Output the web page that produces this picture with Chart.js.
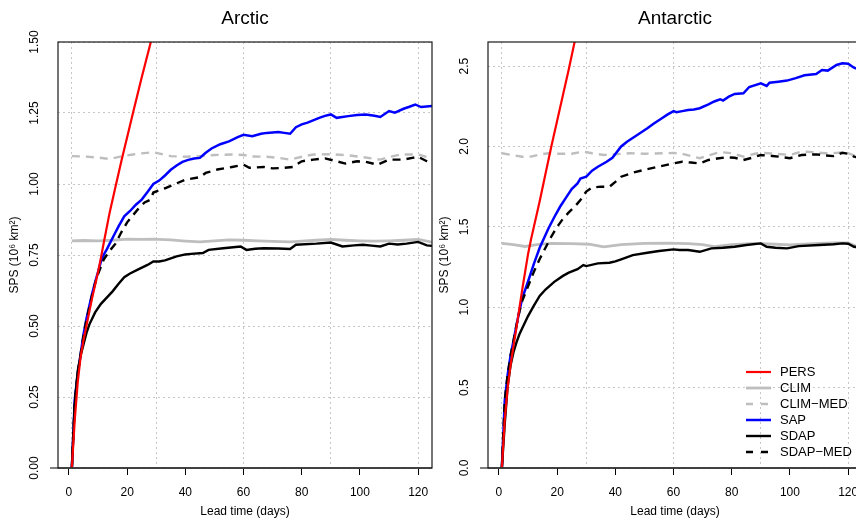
<!DOCTYPE html>
<html>
<head>
<meta charset="utf-8">
<script src="https://cdn.jsdelivr.net/npm/chart.js@4.4.0/dist/chart.umd.min.js"></script>
<style>
  html, body { margin: 0; padding: 0; background: #fff; overflow: hidden; }
  #wrap { position: relative; width: 856px; height: 520px; overflow: hidden; }
  canvas { position: absolute; top: 0; }
  #arctic { left: 0; }
  #antarctic { left: 430px; }
</style>
</head>
<body>
<div id="wrap">
  <canvas id="arctic" width="448" height="520"></canvas>
  <canvas id="antarctic" width="448" height="520"></canvas>
</div>
<script>
// lead time axis (days)
const leadTicks = [0, 20, 40, 60, 80, 100, 120];
const gridDays = [1, 30, 60, 90, 120];
const xMin = -3.76, xMax = 124.76;

const seriesNames = ['PERS', 'CLIM', 'CLIM\u2212MED', 'SAP', 'SDAP', 'SDAP\u2212MED'];

// Arctic panel, SPS in 10^6 km^2, [day, value]
const arcticYTicks = [0, 0.25, 0.5, 0.75, 1.0, 1.25, 1.5];
const arcticYLabels = ['0.00', '0.25', '0.50', '0.75', '1.00', '1.25', '1.50'];
const arcticYMax = 1.5;

const arcticPERS = [[1,0],[2,0.17],[3,0.3],[4,0.39],[5,0.45],[6,0.5],[7,0.55],[8,0.6],[9,0.645],[10,0.69],
  [11,0.74],[12,0.795],[14,0.9],[16,0.99],[18,1.08],[20,1.165],[22,1.25],[25,1.375],[28,1.495],[30,1.575],[35,1.78]];
const arcticCLIM = [[1,0.8],[5,0.801],[10,0.8],[15,0.802],[20,0.806],[25,0.805],[29,0.806],[35,0.803],[40,0.799],
  [45,0.796],[50,0.8],[55,0.803],[60,0.802],[65,0.8],[70,0.798],[76,0.796],[80,0.799],[85,0.802],[90,0.805],
  [95,0.802],[100,0.8],[105,0.799],[110,0.8],[115,0.802],[120,0.805],[125,0.795]];
const arcticCLIMMED = [[1,1.098],[5,1.097],[10,1.093],[14,1.088],[18,1.097],[22,1.104],[25,1.108],[29,1.112],
  [32,1.105],[35,1.098],[40,1.096],[45,1.098],[50,1.102],[56,1.104],[60,1.102],[63,1.097],[68,1.096],[72,1.092],
  [76,1.086],[80,1.096],[84,1.104],[90,1.105],[95,1.102],[100,1.096],[104,1.09],[107,1.086],[110,1.095],
  [114,1.104],[120,1.104],[123,1.095],[125,1.086]];
const arcticSAP = [[1,0],[2,0.24],[3,0.33],[4,0.4],[5,0.47],[6,0.525],[7,0.57],[8,0.615],[9,0.655],[10,0.69],
  [11,0.728],[12,0.752],[13,0.77],[14,0.79],[16,0.83],[17,0.85],[19,0.886],[21,0.905],[23,0.927],[25,0.945],
  [27,0.972],[29,1.0],[31,1.012],[33,1.03],[35,1.05],[37,1.065],[39,1.078],[41,1.085],[43,1.09],[45,1.092],
  [47,1.11],[49,1.125],[52,1.14],[55,1.15],[58,1.165],[60,1.173],[63,1.168],[66,1.177],[68,1.18],[72,1.183],
  [74,1.18],[76,1.177],[78,1.2],[80,1.21],[82,1.216],[86,1.233],[88,1.24],[90,1.245],[92,1.233],[96,1.239],
  [99,1.243],[102,1.245],[105,1.24],[107,1.236],[110,1.257],[112,1.251],[115,1.265],[117,1.272],[119,1.28],
  [121,1.271],[125,1.275]];
const arcticSDAP = [[1,0],[2,0.227],[3,0.34],[4,0.395],[5,0.435],[6,0.475],[7,0.505],[9,0.548],[11,0.578],
  [13,0.6],[15,0.622],[17,0.648],[19,0.672],[21,0.685],[24,0.7],[27,0.715],[29,0.727],[31,0.727],[33,0.731],
  [35,0.738],[37,0.745],[40,0.752],[42,0.754],[46,0.757],[48,0.768],[53,0.774],[59,0.78],[61,0.768],[64,0.772],
  [67,0.774],[72,0.773],[76,0.771],[78,0.786],[85,0.79],[90,0.794],[94,0.78],[98,0.784],[101,0.786],[104,0.783],
  [107,0.78],[110,0.79],[113,0.787],[116,0.79],[120,0.796],[123,0.784],[125,0.782]];
const arcticSDAPMED = [[1,0],[2,0.23],[3,0.33],[4,0.4],[5,0.465],[6,0.52],[7,0.565],[8,0.61],[9,0.65],[10,0.683],
  [12,0.735],[14,0.765],[16,0.79],[18,0.83],[20,0.865],[22,0.89],[24,0.915],[26,0.935],[28,0.945],[29,0.97],
  [31,0.978],[33,0.985],[36,0.998],[40,1.015],[45,1.024],[47,1.039],[51,1.051],[56,1.06],[60,1.068],[62,1.057],
  [67,1.06],[70,1.055],[74,1.057],[77,1.06],[80,1.08],[84,1.086],[88,1.09],[92,1.08],[95,1.072],[99,1.08],
  [102,1.078],[106,1.068],[110,1.086],[115,1.086],[118,1.092],[120,1.096],[123,1.08],[125,1.07]];

// Antarctic panel
const antarcticYTicks = [0, 0.5, 1.0, 1.5, 2.0, 2.5];
const antarcticYLabels = ['0.0', '0.5', '1.0', '1.5', '2.0', '2.5'];
const antarcticYMax = 2.65;

const antarcticPERS = [[1,0],[2,0.3],[3,0.5],[4,0.64],[5,0.76],[6,0.87],[7,0.99],[8,1.11],[9,1.22],[10,1.33],
  [11,1.42],[12,1.5],[14,1.66],[16,1.83],[18,2.0],[20,2.16],[22,2.32],[24,2.48],[26,2.65],[28,2.81],[30,2.97]];
const antarcticCLIM = [[1,1.397],[5,1.39],[9,1.378],[13,1.39],[18,1.397],[25,1.396],[31,1.392],[36,1.376],
  [42,1.39],[50,1.397],[58,1.399],[65,1.396],[70,1.39],[74,1.377],[80,1.39],[88,1.397],[95,1.392],[100,1.388],
  [108,1.395],[115,1.4],[120,1.4],[123,1.378],[125,1.376]];
const antarcticCLIMMED = [[1,1.958],[5,1.945],[8,1.936],[11,1.937],[14,1.95],[17,1.958],[20,1.955],[25,1.955],
  [29,1.968],[32,1.958],[36,1.947],[40,1.952],[45,1.958],[50,1.955],[57,1.958],[60,1.96],[63,1.955],[66,1.94],
  [69,1.927],[72,1.945],[76,1.965],[80,1.958],[84,1.937],[88,1.955],[90,1.961],[95,1.955],[100,1.947],
  [104,1.968],[108,1.965],[112,1.958],[116,1.96],[119,1.965],[122,1.945],[125,1.935]];
const antarcticSAP = [[1,0],[2,0.42],[3,0.58],[4,0.7],[5,0.79],[6,0.885],[7,0.975],[8,1.055],[10,1.16],[12,1.27],
  [14,1.37],[17,1.49],[19,1.56],[21,1.625],[23,1.68],[25,1.735],[27,1.77],[28,1.8],[30,1.812],[32,1.85],
  [34,1.874],[37,1.905],[39,1.93],[42,2.0],[44,2.03],[47,2.065],[51,2.113],[53,2.14],[56,2.176],[58,2.2],
  [60,2.22],[61,2.213],[63,2.22],[65,2.227],[67,2.23],[69,2.238],[72,2.262],[74,2.28],[76,2.294],[77,2.286],
  [79,2.31],[81,2.327],[84,2.331],[86,2.37],[90,2.393],[92,2.377],[93,2.397],[96,2.403],[99,2.41],[102,2.425],
  [105,2.443],[109,2.451],[111,2.476],[113,2.472],[116,2.507],[118,2.518],[120,2.515],[122,2.49],[125,2.47]];
const antarcticSDAP = [[1,0],[2,0.276],[3,0.51],[4,0.64],[5,0.72],[6,0.78],[7,0.83],[8,0.87],[10,0.945],
  [12,1.01],[14,1.07],[16,1.11],[19,1.158],[22,1.195],[24,1.215],[27,1.237],[29,1.262],[30,1.256],[34,1.273],
  [38,1.277],[40,1.285],[42,1.298],[46,1.324],[51,1.339],[55,1.35],[60,1.36],[62,1.356],[65,1.356],[69,1.345],
  [73,1.366],[77,1.37],[81,1.376],[85,1.387],[90,1.397],[92,1.376],[95,1.37],[99,1.366],[103,1.38],[110,1.387],
  [115,1.392],[118,1.397],[120,1.395],[122,1.376],[125,1.37]];
const antarcticSDAPMED = [[1,0],[2,0.42],[3,0.58],[4,0.7],[5,0.79],[6,0.885],[7,0.97],[8,1.04],[10,1.13],
  [12,1.22],[14,1.3],[16,1.37],[18,1.44],[20,1.5],[22,1.55],[24,1.59],[26,1.625],[28,1.667],[30,1.72],
  [32,1.745],[35,1.75],[38,1.75],[40,1.78],[42,1.812],[46,1.837],[50,1.855],[55,1.875],[60,1.895],[63,1.905],
  [66,1.9],[69,1.895],[72,1.916],[75,1.925],[78,1.933],[81,1.93],[84,1.916],[87,1.93],[90,1.947],[94,1.941],
  [97,1.935],[100,1.927],[104,1.947],[109,1.951],[112,1.945],[115,1.94],[118,1.961],[120,1.955],[122,1.937],
  [125,1.925]];

Chart.defaults.font.family = '"Liberation Sans", Arial, Helvetica, sans-serif';
Chart.defaults.font.size = 12;
Chart.defaults.color = '#000';

const toPoints = pairs => pairs.map(p => ({ x: p[0], y: p[1] }));

// line styles, in legend order
const styles = [
  { color: '#ff0000', width: 2.2, dash: [],     order: 0 },
  { color: '#bebebe', width: 2.8, dash: [],     order: 5 },
  { color: '#bebebe', width: 2.4, dash: [8, 6], order: 4 },
  { color: '#0000ff', width: 2.5, dash: [],     order: 3 },
  { color: '#000000', width: 2.4, dash: [],     order: 2 },
  { color: '#000000', width: 2.4, dash: [8, 6], order: 1 }
];

function buildDatasets(series) {
  return series.map((s, i) => ({
    label: seriesNames[i],
    data: toPoints(s),
    borderColor: styles[i].color,
    borderWidth: styles[i].width,
    borderDash: styles[i].dash,
    order: styles[i].order,
    pointRadius: 0,
    tension: 0,
    fill: false,
    clip: 0,
    xAxisID: 'x',
    yAxisID: 'y'
  }));
}

// panel title centred over the plot region
const panelTitle = {
  id: 'panelTitle',
  afterDraw(chart, args, opts) {
    const { ctx, chartArea } = chart;
    ctx.save();
    ctx.font = '19px "Liberation Sans", Arial, sans-serif';
    ctx.fillStyle = '#000';
    ctx.textAlign = 'center';
    ctx.textBaseline = 'alphabetic';
    ctx.fillText(opts.text, (chartArea.left + chartArea.right) / 2, 24);
    ctx.restore();
  }
};

// frame around the plot region plus the zero line
const plotBox = {
  id: 'plotBox',
  afterDatasetsDraw(chart) {
    const { ctx, chartArea: a } = chart;
    ctx.save();
    ctx.strokeStyle = '#555';
    ctx.lineWidth = 1.5;
    ctx.beginPath();
    ctx.moveTo(a.left - 8, a.bottom);
    ctx.lineTo(a.right, a.bottom);
    ctx.stroke();
    ctx.strokeStyle = '#1a1a1a';
    ctx.lineWidth = 1.2;
    ctx.strokeRect(a.left, a.top, a.right - a.left, a.bottom - a.top);
    ctx.restore();
  }
};

// line legend, lower right of the Antarctic panel
const lineLegend = {
  id: 'lineLegend',
  afterDraw(chart, args, opts) {
    if (!opts.show) return;
    const { ctx } = chart;
    ctx.save();
    ctx.font = '13px "Liberation Sans", Arial, sans-serif';
    ctx.textBaseline = 'middle';
    ctx.textAlign = 'left';
    chart.data.datasets.forEach((ds, i) => {
      const y = opts.y + i * 16;
      ctx.strokeStyle = ds.borderColor;
      ctx.lineWidth = ds.borderWidth;
      ctx.setLineDash(ds.borderDash.length ? [7, 8] : []);
      ctx.beginPath();
      ctx.moveTo(opts.x, y);
      ctx.lineTo(opts.x + 25, y);
      ctx.stroke();
      ctx.setLineDash([]);
      ctx.fillStyle = '#000';
      ctx.fillText(ds.label, opts.x + 34, y + 0.5);
    });
    ctx.restore();
  }
};

function makePanel(canvasId, title, series, yMax, yTicks, yLabels, rightPad, labelPad, showLegend) {
  return new Chart(document.getElementById(canvasId), {
    type: 'line',
    data: { datasets: buildDatasets(series) },
    options: {
      responsive: false,
      animation: false,
      events: [],
      layout: { padding: { top: 42, right: rightPad, bottom: 0, left: 0 } },
      scales: {
        x: {
          type: 'linear', position: 'bottom', min: xMin, max: xMax,
          afterBuildTicks: s => { s.ticks = leadTicks.map(v => ({ value: v })); },
          afterFit: s => { s.height = 52; },
          ticks: { padding: 10, maxRotation: 0, callback: v => String(v) },
          grid: { drawOnChartArea: false, drawTicks: true, tickLength: 7, tickColor: '#000', tickWidth: 1 },
          border: { display: false },
          title: { display: true, text: 'Lead time (days)', padding: { top: 0, bottom: 1 } }
        },
        xg: {
          type: 'linear', position: 'bottom', weight: 1, min: xMin, max: xMax,
          afterBuildTicks: s => { s.ticks = gridDays.map(v => ({ value: v })); },
          afterFit: s => { s.height = 0; },
          ticks: { display: false },
          grid: { drawTicks: false, color: '#c6c6c6', lineWidth: 1 },
          border: { display: false, dash: [2, 3] }
        },
        y: {
          type: 'linear', min: 0, max: yMax,
          afterBuildTicks: s => { s.ticks = yTicks.map(v => ({ value: v })); },
          afterFit: s => { s.width = 58; },
          ticks: { minRotation: 90, maxRotation: 90, crossAlign: 'center', padding: labelPad,
                   callback: (v, i) => yLabels[i] },
          grid: { drawTicks: false, color: '#c6c6c6', lineWidth: 1 },
          border: { display: false, dash: [2, 3] },
          title: { display: true, text: 'SPS (10\u2076 km\u00b2)', padding: { top: 7, bottom: 0 } }
        }
      },
      plugins: {
        legend: { display: false },
        tooltip: { enabled: false },
        panelTitle: { text: title },
        lineLegend: { show: showLegend, x: 316, y: 372 }
      }
    },
    plugins: [panelTitle, plotBox, lineLegend]
  });
}

// both canvases are 448 wide with 16px spare on the right, so the plot spans 58..432
makePanel('arctic', 'Arctic',
  [arcticPERS, arcticCLIM, arcticCLIMMED, arcticSAP, arcticSDAP, arcticSDAPMED],
  arcticYMax, arcticYTicks, arcticYLabels, 16, 11.3, false);

makePanel('antarctic', 'Antarctic',
  [antarcticPERS, antarcticCLIM, antarcticCLIMMED, antarcticSAP, antarcticSDAP, antarcticSDAPMED],
  antarcticYMax, antarcticYTicks, antarcticYLabels, 16, 14.7, true);
</script>
</body>
</html>
